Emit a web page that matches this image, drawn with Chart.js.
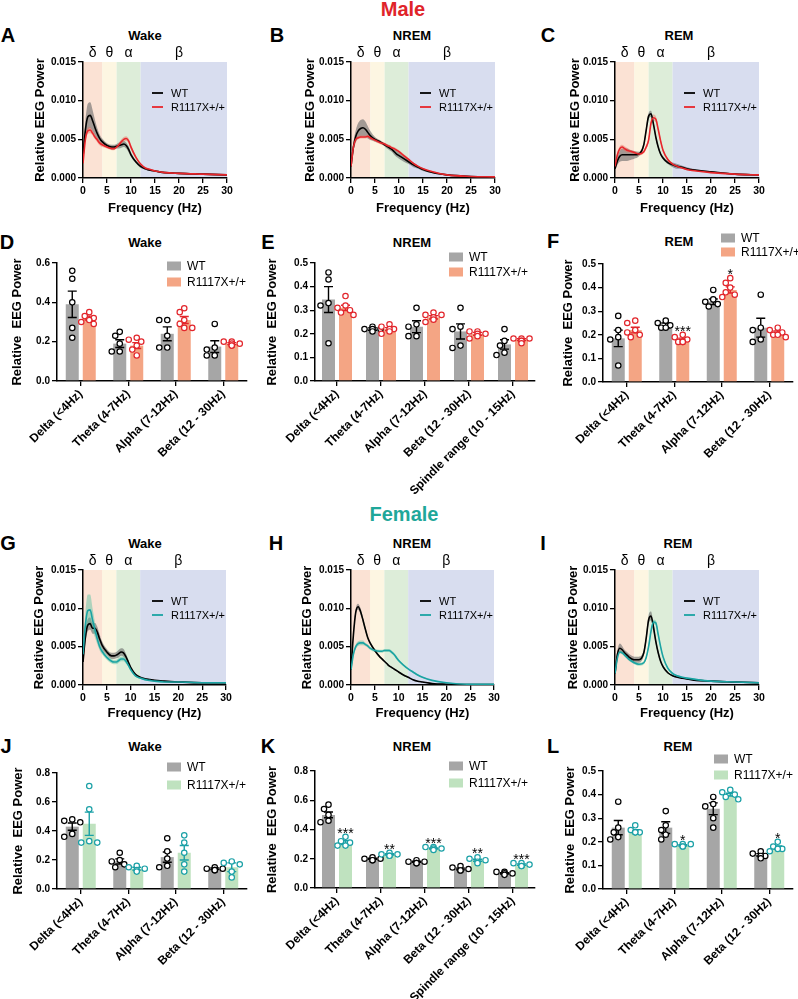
<!DOCTYPE html>
<html><head><meta charset="utf-8">
<script src="https://cdn.jsdelivr.net/npm/chart.js@4.4.1/dist/chart.umd.min.js"></script>
<style>
html,body{margin:0;padding:0;background:#fff;}
body{position:relative;width:798px;height:999px;overflow:hidden;font-family:Arial,"Liberation Sans",Helvetica,sans-serif;}
canvas{position:absolute;}
.lbl{position:absolute;transform:translate(-50%,-50%);white-space:nowrap;font-weight:bold;color:#000;line-height:1;}
</style></head><body>
<script>
// ---------------- DATA ----------------
const freq = [0,0.5,1,1.5,2,2.5,3,3.5,4,5,6,6.5,7,7.5,8,8.5,9,9.5,10,11,12,13,14,15,17,20,25,30];
const freqTicks = [0,5,10,15,20,25,30];
const bandEdges = [0,4,7,12,30];
const bandSymbols = ['δ','θ','α','β'];
const bandLabelAt = [2,5.5,9.5,20];

// Male Wake (A)
const maleWakeWT     = [0.0028,0.0062,0.0079,0.0081,0.0074,0.0065,0.0057,0.0051,0.0047,0.0042,0.0040,0.0040,0.0041,0.0042,0.0043,0.0044,0.0042,0.0037,0.0030,0.0021,0.0015,0.0012,0.0010,0.0009,0.0007,0.0006,0.0005,0.0004];
const maleWakeWTsem  = [0.0008,0.0012,0.0017,0.0017,0.0014,0.0010,0.0007,0.0005,0.0004,0.0003,0.0003,0.0003,0.0003,0.0004,0.0004,0.0004,0.0004,0.0004,0.0003,0.0002,0.0002,0.0001,0.0001,0.0001,0.0001,0.0001,0.0001,0.0001];
const maleWakeMut    = [0.0019,0.0050,0.0061,0.0062,0.0058,0.0053,0.0049,0.0045,0.0043,0.0040,0.0038,0.0038,0.0040,0.0043,0.0047,0.0050,0.0051,0.0048,0.0040,0.0027,0.0018,0.0013,0.0011,0.0009,0.0007,0.0006,0.0005,0.0004];
const maleWakeMutSem = [0.0003,0.0004,0.0004,0.0004,0.0003,0.0003,0.0003,0.0003,0.0003,0.0002,0.0002,0.0002,0.0002,0.0003,0.0003,0.0003,0.0003,0.0003,0.0003,0.0002,0.0001,0.0001,0.0001,0.0001,0.0001,0.0001,0.0001,0.0001];
// Male NREM (B)
const maleNremWT     = [0.0015,0.0040,0.0054,0.0061,0.0064,0.0065,0.0063,0.0059,0.0055,0.0050,0.0047,0.0045,0.0043,0.0041,0.0039,0.0037,0.0034,0.0031,0.0029,0.0025,0.0021,0.0017,0.0014,0.0011,0.0007,0.0004,0.0002,0.00015];
const maleNremWTsem  = [0.0003,0.0006,0.0008,0.0010,0.0011,0.0011,0.0010,0.0008,0.0006,0.0003,0.0002,0.0002,0.0002,0.0003,0.0003,0.0003,0.0004,0.0004,0.0004,0.0004,0.0003,0.0003,0.0002,0.0002,0.0001,0.0001,0.00005,0.00005];
const maleNremMut    = [0.0015,0.0040,0.0050,0.0052,0.0053,0.0053,0.0053,0.0054,0.0052,0.0049,0.0046,0.0045,0.0044,0.0042,0.0041,0.0039,0.0038,0.0036,0.0034,0.0029,0.0024,0.0019,0.0015,0.0012,0.0008,0.0004,0.0002,0.00015];
const maleNremMutSem = [0.0002,0.0002,0.0002,0.0002,0.0002,0.0002,0.0002,0.0002,0.0002,0.0002,0.0002,0.0002,0.0002,0.0002,0.0002,0.0002,0.0002,0.0002,0.0002,0.0002,0.0002,0.0001,0.0001,0.0001,0.0001,0.0001,0.00005,0.00005];
// Male REM (C)
const maleRemWT      = [0.0012,0.0022,0.0028,0.0030,0.0030,0.0030,0.0030,0.0030,0.0030,0.0031,0.0043,0.0062,0.0080,0.0083,0.0070,0.0053,0.0040,0.0031,0.0026,0.0020,0.0017,0.0015,0.0014,0.0012,0.0010,0.0008,0.0005,0.0004];
const maleRemWTsem   = [0.0003,0.0005,0.0007,0.0008,0.0008,0.0008,0.0007,0.0006,0.0005,0.0003,0.0003,0.0004,0.0004,0.0004,0.0003,0.0003,0.0002,0.0002,0.0002,0.0002,0.0003,0.0003,0.0002,0.0002,0.0001,0.0001,0.0001,0.0001];
const maleRemMut     = [0.0015,0.0030,0.0038,0.0040,0.0038,0.0036,0.0035,0.0034,0.0033,0.0031,0.0034,0.0040,0.0049,0.0071,0.0078,0.0076,0.0063,0.0048,0.0036,0.0024,0.0018,0.0015,0.0013,0.0011,0.0009,0.0007,0.0005,0.0004];
const maleRemMutSem  = [0.0002,0.0003,0.0003,0.0003,0.0003,0.0003,0.0002,0.0002,0.0002,0.0002,0.0002,0.0003,0.0003,0.0004,0.0004,0.0004,0.0003,0.0003,0.0002,0.0002,0.0001,0.0001,0.0001,0.0001,0.0001,0.0001,0.0001,0.0001];
// Female Wake (G)
const femWakeWT      = [0.0030,0.0062,0.0078,0.0080,0.0074,0.0074,0.0069,0.0060,0.0052,0.0043,0.0038,0.0038,0.0039,0.0041,0.0043,0.0042,0.0037,0.0030,0.0023,0.0014,0.0010,0.0008,0.0007,0.0006,0.0005,0.0004,0.0003,0.0003];
const femWakeWTsem   = [0.0005,0.0008,0.0008,0.0008,0.0007,0.0007,0.0007,0.0006,0.0005,0.0004,0.0004,0.0004,0.0004,0.0005,0.0005,0.0005,0.0004,0.0003,0.0002,0.0001,0.0001,0.0001,0.0001,0.0001,0.0001,0.0001,0.0001,0.0001];
const femWakeMut     = [0.0040,0.0078,0.0097,0.0098,0.0085,0.0072,0.0060,0.0050,0.0044,0.0036,0.0031,0.0030,0.0030,0.0032,0.0034,0.0034,0.0031,0.0026,0.0020,0.0012,0.0009,0.0007,0.0006,0.0005,0.0004,0.0004,0.0003,0.0003];
const femWakeMutSem  = [0.0008,0.0016,0.0021,0.0020,0.0015,0.0010,0.0007,0.0005,0.0004,0.0003,0.0003,0.0003,0.0003,0.0003,0.0003,0.0003,0.0003,0.0002,0.0002,0.0001,0.0001,0.0001,0.0001,0.0001,0.0001,0.0001,0.0001,0.0001];
// Female NREM (H)
const femNremWT      = [0.0020,0.0065,0.0095,0.0102,0.0096,0.0085,0.0073,0.0062,0.0055,0.0045,0.0037,0.0034,0.0031,0.0028,0.0025,0.0023,0.0021,0.0019,0.0017,0.0013,0.0010,0.0007,0.0005,0.0004,0.0002,0.0001,0.00005,0.00005];
const femNremWTsem   = [0.0002,0.0003,0.0004,0.0004,0.0004,0.0003,0.0003,0.0002,0.0002,0.0002,0.0001,0.0001,0.0001,0.0001,0.0001,0.0001,0.0001,0.0001,0.0001,0.0001,0.0001,0.00005,0.00005,0.00005,0.00005,0.00005,0.00005,0.00005];
const femNremMut     = [0.0020,0.0040,0.0050,0.0054,0.0055,0.0055,0.0053,0.0051,0.0048,0.0045,0.0044,0.0044,0.0045,0.0045,0.0045,0.0043,0.0040,0.0036,0.0032,0.0026,0.0021,0.0017,0.0013,0.0010,0.0006,0.0003,0.0001,0.0001];
const femNremMutSem  = [0.0002,0.0003,0.0003,0.0003,0.0003,0.0003,0.0002,0.0002,0.0002,0.0002,0.0002,0.0002,0.0002,0.0002,0.0002,0.0002,0.0002,0.0002,0.0002,0.0001,0.0001,0.0001,0.0001,0.0001,0.00005,0.00005,0.00005,0.00005];
// Female REM (I)
const femRemWT       = [0.0015,0.0040,0.0048,0.0046,0.0042,0.0039,0.0036,0.0034,0.0033,0.0033,0.0042,0.0061,0.0085,0.0090,0.0076,0.0057,0.0042,0.0031,0.0024,0.0016,0.0012,0.0010,0.0009,0.0008,0.0006,0.0005,0.0004,0.0003];
const femRemWTsem    = [0.0003,0.0005,0.0006,0.0005,0.0004,0.0004,0.0004,0.0004,0.0004,0.0004,0.0004,0.0005,0.0006,0.0006,0.0005,0.0004,0.0003,0.0002,0.0002,0.0001,0.0001,0.0001,0.0001,0.0001,0.0001,0.0001,0.0001,0.0001];
const femRemMut      = [0.0015,0.0035,0.0043,0.0042,0.0039,0.0036,0.0033,0.0031,0.0029,0.0027,0.0029,0.0036,0.0050,0.0070,0.0082,0.0081,0.0066,0.0050,0.0037,0.0022,0.0015,0.0012,0.0010,0.0009,0.0007,0.0005,0.0004,0.0003];
const femRemMutSem   = [0.0002,0.0002,0.0002,0.0002,0.0002,0.0002,0.0002,0.0002,0.0002,0.0002,0.0002,0.0002,0.0003,0.0003,0.0003,0.0003,0.0003,0.0002,0.0002,0.0001,0.0001,0.0001,0.0001,0.0001,0.0001,0.0001,0.0001,0.0001];

// Bar categories
const bandCats4 = ['Delta (<4Hz)','Theta (4-7Hz)','Alpha (7-12Hz)','Beta (12 - 30Hz)'];
const bandCats5 = ['Delta (<4Hz)','Theta (4-7Hz)','Alpha (7-12Hz)','Beta (12 - 30Hz)','Spindle range (10 - 15Hz)'];

// D Male Wake
const dWT = [0.39,0.19,0.24,0.175], dWTsem = [0.067,0.02,0.035,0.03];
const dWTpts = [[0.56,0.52,0.40,0.27,0.22],[0.25,0.23,0.19,0.15,0.15],[0.31,0.31,0.23,0.17,0.17],[0.29,0.17,0.16,0.13,0.13]];
const dMut = [0.32,0.18,0.31,0.19], dMutSem = [0.01,0.015,0.018,0.005];
const dMutPts = [[0.35,0.33,0.32,0.31,0.30,0.29],[0.22,0.21,0.20,0.18,0.16,0.13],[0.37,0.35,0.31,0.29,0.27,0.27],[0.20,0.20,0.19,0.19,0.18,0.18]];
const dSig = ['','','',''];
// E Male NREM
const eWT = [0.345,0.22,0.23,0.21,0.155], eWTsem = [0.055,0.005,0.025,0.032,0.02];
const eWTpts = [[0.46,0.43,0.33,0.32,0.16],[0.23,0.22,0.22,0.22,0.21],[0.31,0.24,0.23,0.19,0.19],[0.31,0.23,0.22,0.15,0.14],[0.22,0.17,0.15,0.12,0.11]];
const eMut = [0.31,0.22,0.27,0.20,0.175], eMutSem = [0.011,0.006,0.007,0.006,0.004];
const eMutPts = [[0.36,0.32,0.31,0.30,0.29,0.28],[0.24,0.23,0.22,0.22,0.21,0.20],[0.29,0.28,0.28,0.27,0.26,0.25],[0.21,0.21,0.20,0.20,0.19,0.18],[0.18,0.18,0.18,0.17,0.17,0.16]];
const eSig = ['','','','',''];
// F Male REM
const fWT = [0.185,0.24,0.34,0.23], fWTsem = [0.035,0.01,0.012,0.04];
const fWTpts = [[0.28,0.22,0.19,0.18,0.07],[0.26,0.25,0.24,0.23,0.23],[0.39,0.35,0.34,0.33,0.32],[0.37,0.23,0.22,0.18,0.17]];
const fMut = [0.22,0.18,0.39,0.21], fMutSem = [0.012,0.006,0.013,0.006];
const fMutPts = [[0.26,0.25,0.22,0.21,0.20,0.19],[0.20,0.19,0.18,0.17,0.17,0.17],[0.44,0.42,0.40,0.38,0.37,0.36],[0.23,0.22,0.21,0.20,0.20,0.19]];
const fSig = ['','***','*',''];
// J Female Wake
const jWT = [0.43,0.19,0.22,0.14], jWTsem = [0.025,0.018,0.035,0.006];
const jWTpts = [[0.48,0.47,0.46,0.38,0.36],[0.25,0.20,0.19,0.17,0.15],[0.35,0.26,0.21,0.16,0.15],[0.15,0.14,0.14,0.13,0.13]];
const jMut = [0.45,0.14,0.25,0.15], jMutSem = [0.08,0.01,0.05,0.03];
const jMutPts = [[0.71,0.55,0.33,0.32,0.32],[0.16,0.15,0.14,0.13,0.12],[0.37,0.32,0.25,0.17,0.12],[0.19,0.18,0.17,0.12,0.08]];
const jSig = ['','','',''];
// K Female NREM
const kWT = [0.50,0.20,0.18,0.13,0.10], kWTsem = [0.02,0.004,0.004,0.006,0.004];
const kWTpts = [[0.57,0.54,0.50,0.46,0.45],[0.21,0.20,0.20,0.19,0.19],[0.19,0.18,0.18,0.17,0.17],[0.15,0.14,0.13,0.12,0.12],[0.11,0.11,0.10,0.10,0.09]];
const kMut = [0.31,0.23,0.27,0.19,0.16], kMutSem = [0.013,0.004,0.003,0.007,0.005];
const kMutPts = [[0.35,0.32,0.31,0.29,0.29],[0.24,0.23,0.23,0.22,0.22],[0.28,0.28,0.27,0.27,0.26],[0.21,0.20,0.19,0.18,0.17],[0.17,0.17,0.16,0.15,0.15]];
const kSig = ['***','**','***','**','***'];
// L Female REM
const lWT = [0.26,0.26,0.34,0.145], lWTsem = [0.03,0.025,0.025,0.005];
const lWTpts = [[0.37,0.26,0.24,0.22,0.21],[0.33,0.27,0.25,0.23,0.21],[0.39,0.36,0.35,0.30,0.26],[0.16,0.15,0.14,0.14,0.13]];
const lMut = [0.245,0.185,0.40,0.175], lMutSem = [0.006,0.003,0.006,0.007];
const lMutPts = [[0.27,0.25,0.24,0.24,0.24],[0.19,0.19,0.19,0.18,0.18],[0.42,0.41,0.40,0.39,0.38],[0.20,0.18,0.17,0.17,0.16]];
const lSig = ['','*','','*'];

// ---------------- STYLE ----------------
const FONT = 'Arial, "Liberation Sans", Helvetica, sans-serif';
Chart.defaults.font.family = FONT;
Chart.defaults.color = '#000';
const bandColors = ['#fbe2d4','#fdf6e2','#ddedd9','#d8ddef'];
const WT_BAND = 'rgba(105,105,105,0.6)';
const MALE_LINE = '#e8252b', MALE_BAND = 'rgba(236,110,95,0.45)';
const FEM_LINE = '#1aa3a3', FEM_BAND = 'rgba(80,190,160,0.45)';
const WT_BAR = '#a6a6a6', MALE_BAR = '#f4a584', FEM_BAR = '#bfe2bf';
const MALE_PT = '#e2252b', FEM_PT = '#1aa0a6';

function addText(txt, x, y, size, color, bold) {
  const d = document.createElement('div'); d.className = 'lbl'; d.textContent = txt;
  d.style.left = x + 'px'; d.style.top = y + 'px'; d.style.fontSize = size + 'px';
  d.style.color = color || '#000'; if (bold === false) d.style.fontWeight = 'normal';
  document.body.appendChild(d);
}
function addCanvas(l, t, w, h) {
  const c = document.createElement('canvas'); c.width = w; c.height = h;
  c.style.left = l + 'px'; c.style.top = t + 'px'; c.style.width = w + 'px'; c.style.height = h + 'px';
  document.body.appendChild(c); return c;
}

const bandPlugin = {
  id: 'bands',
  beforeDraw(chart) {
    const {ctx, chartArea: a, scales: {x}} = chart;
    ctx.save();
    for (let i = 0; i < bandEdges.length - 1; i++) {
      const x1 = x.getPixelForValue(bandEdges[i]), x2 = x.getPixelForValue(bandEdges[i + 1]);
      ctx.fillStyle = bandColors[i]; ctx.fillRect(x1, a.top, x2 - x1, a.bottom - a.top);
    }
    ctx.font = '14px ' + FONT; ctx.fillStyle = '#000'; ctx.textAlign = 'center'; ctx.textBaseline = 'middle';
    bandSymbols.forEach((s, i) => ctx.fillText(s, x.getPixelForValue(bandLabelAt[i]), a.top - 9));
    ctx.restore();
  }
};
const legendPlugin = {
  id: 'customLegend',
  afterDraw(chart, args, o) {
    if (!o || !o.items) return;
    const ctx = chart.ctx, a = chart.chartArea;
    ctx.save();
    ctx.font = o.font + 'px ' + FONT; ctx.textBaseline = 'middle'; ctx.textAlign = 'left';
    o.items.forEach((it, i) => {
      const x = a.left + o.dx, y = a.top + o.dy + i * o.gap;
      if (it.kind === 'line') {
        ctx.strokeStyle = it.color; ctx.lineWidth = 1.8;
        ctx.beginPath(); ctx.moveTo(x, y); ctx.lineTo(x + 11, y); ctx.stroke();
      } else {
        ctx.fillStyle = it.color; ctx.fillRect(x, y - 4.5, 14, 9);
      }
      ctx.fillStyle = '#000'; ctx.fillText(it.label, x + o.textDx, y + 0.5);
    });
    ctx.restore();
  }
};
const barExtras = {
  id: 'barExtras',
  afterDatasetsDraw(chart, args, o) {
    const ctx = chart.ctx, ys = chart.scales.y;
    ctx.save();
    o.groups.forEach((g, di) => {
      const meta = chart.getDatasetMeta(di);
      meta.data.forEach((bar, i) => {
        const x = bar.x;
        const yHi = ys.getPixelForValue(g.mean[i] + g.sem[i]), yLo = ys.getPixelForValue(g.mean[i] - g.sem[i]);
        ctx.strokeStyle = g.err; ctx.lineWidth = 1.4;
        ctx.beginPath();
        ctx.moveTo(x, yHi); ctx.lineTo(x, yLo);
        ctx.moveTo(x - 4.5, yHi); ctx.lineTo(x + 4.5, yHi);
        ctx.moveTo(x - 4.5, yLo); ctx.lineTo(x + 4.5, yLo);
        ctx.stroke();
        const placed = [];
        let topY = yHi;
        g.pts[i].forEach(v => {
          const py = ys.getPixelForValue(v);
          let dx = 0;
          for (const c of [0, -4.5, 4.5, -8, 8]) {
            if (placed.every(p => Math.hypot(p[0] - c, p[1] - py) >= 5.6)) { dx = c; break; }
          }
          placed.push([dx, py]);
          topY = Math.min(topY, py);
          ctx.beginPath(); ctx.arc(x + dx, py, 2.7, 0, Math.PI * 2);
          ctx.fillStyle = '#fff'; ctx.fill();
          ctx.strokeStyle = g.pt; ctx.lineWidth = 1.2; ctx.stroke();
        });
        if (g.sig && g.sig[i]) {
          ctx.fillStyle = '#000'; ctx.font = '14px ' + FONT; ctx.textAlign = 'center'; ctx.textBaseline = 'alphabetic';
          ctx.fillText(g.sig[i], x, topY + 1);
        }
      });
    });
    ctx.restore();
  }
};

const axisGrid = {display: true, drawOnChartArea: false, drawTicks: true, tickLength: 5, color: '#000', lineWidth: 1.3};
const axisBorder = {display: true, color: '#000', width: 1.5};

function lineChart(o) {
  const padTop = 20, yw = 83, xh = 40, padR = 12;
  const [aL, aR, aT, aB] = o.area;
  const L = aL - yw, T = aT - padTop, W = aR - aL + yw + padR, H = aB - aT + padTop + xh;
  const cv = addCanvas(L, T, W, H);
  const pt = a => freq.map((f, i) => ({x: f, y: a[i]}));
  const hi = (m, s) => m.map((v, i) => v + s[i]);
  const lo = (m, s) => m.map((v, i) => Math.max(0, v - s[i]));
  const bandDs = (data, fill, color, order) => ({data, fill, backgroundColor: color, borderColor: 'rgba(0,0,0,0)', borderWidth: 0, pointRadius: 0, cubicInterpolationMode: 'monotone', order});
  new Chart(cv, {
    type: 'line',
    data: {datasets: [
      bandDs(pt(hi(o.wt, o.wtSem)), '+1', WT_BAND, 3),
      bandDs(pt(lo(o.wt, o.wtSem)), false, WT_BAND, 3),
      bandDs(pt(hi(o.mut, o.mutSem)), '+1', o.mutBand, 2),
      bandDs(pt(lo(o.mut, o.mutSem)), false, o.mutBand, 2),
      {data: pt(o.wt), borderColor: '#000', borderWidth: 1.6, pointRadius: 0, fill: false, cubicInterpolationMode: 'monotone', order: 1},
      {data: pt(o.mut), borderColor: o.mutColor, borderWidth: 1.6, pointRadius: 0, fill: false, cubicInterpolationMode: 'monotone', order: 0}
    ]},
    options: {
      responsive: false, animation: false, devicePixelRatio: 1, events: [],
      layout: {padding: {top: padTop, right: padR, left: 0, bottom: 0}},
      plugins: {legend: {display: false}, tooltip: {enabled: false},
        customLegend: {dx: 69, dy: 31, gap: 14, textDx: 19, font: 11,
          items: [{label: 'WT', color: '#000', kind: 'line'}, {label: 'R1117X+/+', color: o.mutColor, kind: 'line'}]}},
      scales: {
        x: {type: 'linear', min: 0, max: 30, z: 1, afterFit: s => { s.height = xh; },
          afterBuildTicks: s => { s.ticks = freqTicks.map(v => ({value: v})); },
          ticks: {font: {size: 10.5, weight: 'bold'}, color: '#000', padding: 2, maxRotation: 0},
          grid: axisGrid, border: axisBorder,
          title: {display: true, text: 'Frequency (Hz)', font: {size: 13, weight: 'bold'}, color: '#000', padding: {top: 0, bottom: T + H - 7.8 - o.xTitleY}}},
        y: {min: 0, max: 0.015, z: 1, afterFit: s => { s.width = yw; },
          ticks: {stepSize: 0.005, callback: v => v.toFixed(3), font: {size: 10, weight: 'bold'}, color: '#000', padding: 2},
          grid: axisGrid, border: axisBorder,
          title: {display: true, text: 'Relative EEG Power', font: {size: 13, weight: 'bold'}, color: '#000', padding: {top: o.yTitleX - L - 7.8, bottom: 0}}}
      }
    },
    plugins: [bandPlugin, legendPlugin]
  });
}

function barChart(o) {
  const padTop = 35, yw = 57, xh = 130, padR = 10;
  const [aL, aR, aT, aB] = o.area;
  const L = aL - yw, T = aT - padTop, W = aR - aL + yw + padR, H = aB - aT + padTop + xh;
  const cv = addCanvas(L, T, W, H);
  const cw = (aR - aL) / o.cats.length;
  const catPct = 34 / cw, barPct = 13 / 17;
  new Chart(cv, {
    type: 'bar',
    data: {labels: o.cats, datasets: [
      {label: 'WT', data: o.wt, backgroundColor: WT_BAR, borderWidth: 0, categoryPercentage: catPct, barPercentage: barPct},
      {label: 'R1117X+/+', data: o.mut, backgroundColor: o.mutBar, borderWidth: 0, categoryPercentage: catPct, barPercentage: barPct}
    ]},
    options: {
      responsive: false, animation: false, devicePixelRatio: 1, events: [],
      layout: {padding: {top: padTop, right: padR, left: 0, bottom: 0}},
      plugins: {legend: {display: false}, tooltip: {enabled: false},
        customLegend: Object.assign({textDx: 20, font: 12,
          items: [{label: 'WT', color: WT_BAR, kind: 'box'}, {label: 'R1117X+/+', color: o.mutBar, kind: 'box'}]}, o.legend),
        barExtras: {groups: [
          {mean: o.wt, sem: o.wtSem, pts: o.wtPts, err: '#000', pt: '#000'},
          {mean: o.mut, sem: o.mutSem, pts: o.mutPts, err: o.mutPt, pt: o.mutPt, sig: o.sig}
        ]}},
      scales: {
        x: {z: 1, afterFit: s => { s.height = xh; },
          ticks: {font: {size: 12, weight: 'bold'}, color: '#000', padding: 1, minRotation: 45, maxRotation: 45, autoSkip: false},
          grid: Object.assign({}, axisGrid, {offset: false}), border: axisBorder},
        y: {min: 0, max: o.yMax, z: 1, afterFit: s => { s.width = yw; },
          ticks: {stepSize: o.yStep, callback: v => v.toFixed(1), font: {size: 10, weight: 'bold'}, color: '#000', padding: 2},
          grid: axisGrid, border: axisBorder,
          title: {display: true, text: 'Relative  EEG Power', font: {size: 13, weight: 'bold'}, color: '#000', padding: {top: o.yTitleX - L - 7.8, bottom: 0}}}
      }
    },
    plugins: [legendPlugin, barExtras]
  });
}

// ---------------- BUILD ----------------
addText('Male', 403, 9, 20, '#e0242a');
addText('Female', 404, 514, 20, '#1fa79a');
[['A',8,35],['B',277,35],['C',548,35],['D',7,242],['E',268,242],['F',553,241],
 ['G',8,543],['H',276,543],['I',543,543],['J',6,746],['K',268,746],['L',553,746]].forEach(p => addText(p[0], p[1], p[2], 20));
[['Wake',145,35],['NREM',412,35],['REM',679,35],['Wake',145,242],['NREM',412,242],['REM',679,241],
 ['Wake',145,543],['NREM',412,543],['REM',678,543],['Wake',145,746],['NREM',412,746],['REM',678,746]].forEach(p => addText(p[0], p[1], p[2], 13));

lineChart({area: [83,227,62,178], wt: maleWakeWT, wtSem: maleWakeWTsem, mut: maleWakeMut, mutSem: maleWakeMutSem, mutColor: MALE_LINE, mutBand: MALE_BAND, yTitleX: 40, xTitleY: 208});
lineChart({area: [351,495,62,178], wt: maleNremWT, wtSem: maleNremWTsem, mut: maleNremMut, mutSem: maleNremMutSem, mutColor: MALE_LINE, mutBand: MALE_BAND, yTitleX: 310, xTitleY: 208});
lineChart({area: [615,759,62,178], wt: maleRemWT, wtSem: maleRemWTsem, mut: maleRemMut, mutSem: maleRemMutSem, mutColor: MALE_LINE, mutBand: MALE_BAND, yTitleX: 575, xTitleY: 208});
lineChart({area: [83,226,570,685], wt: femWakeWT, wtSem: femWakeWTsem, mut: femWakeMut, mutSem: femWakeMutSem, mutColor: FEM_LINE, mutBand: FEM_BAND, yTitleX: 39, xTitleY: 713});
lineChart({area: [351,494,570,685], wt: femNremWT, wtSem: femNremWTsem, mut: femNremMut, mutSem: femNremMutSem, mutColor: FEM_LINE, mutBand: FEM_BAND, yTitleX: 307, xTitleY: 713});
lineChart({area: [615,759,570,685], wt: femRemWT, wtSem: femRemWTsem, mut: femRemMut, mutSem: femRemMutSem, mutColor: FEM_LINE, mutBand: FEM_BAND, yTitleX: 573, xTitleY: 713});

barChart({area: [57,247,263,381], cats: bandCats4, wt: dWT, wtSem: dWTsem, wtPts: dWTpts, mut: dMut, mutSem: dMutSem, mutPts: dMutPts, sig: dSig, yMax: 0.6, yStep: 0.2, mutBar: MALE_BAR, mutPt: MALE_PT, yTitleX: 17, legend: {dx: 110, dy: 3, gap: 16}});
barChart({area: [315,535,263,381], cats: bandCats5, wt: eWT, wtSem: eWTsem, wtPts: eWTpts, mut: eMut, mutSem: eMutSem, mutPts: eMutPts, sig: eSig, yMax: 0.5, yStep: 0.1, mutBar: MALE_BAR, mutPt: MALE_PT, yTitleX: 272, legend: {dx: 134, dy: -6, gap: 15}});
barChart({area: [603,793,264,382], cats: bandCats4, wt: fWT, wtSem: fWTsem, wtPts: fWTpts, mut: fMut, mutSem: fMutSem, mutPts: fMutPts, sig: fSig, yMax: 0.5, yStep: 0.1, mutBar: MALE_BAR, mutPt: MALE_PT, yTitleX: 568, legend: {dx: 118, dy: -26, gap: 14}});
barChart({area: [57,247,773,889], cats: bandCats4, wt: jWT, wtSem: jWTsem, wtPts: jWTpts, mut: jMut, mutSem: jMutSem, mutPts: jMutPts, sig: jSig, yMax: 0.8, yStep: 0.2, mutBar: FEM_BAR, mutPt: FEM_PT, yTitleX: 18, legend: {dx: 110, dy: -6, gap: 18}});
barChart({area: [315,535,771,888], cats: bandCats5, wt: kWT, wtSem: kWTsem, wtPts: kWTpts, mut: kMut, mutSem: kMutSem, mutPts: kMutPts, sig: kSig, yMax: 0.8, yStep: 0.2, mutBar: FEM_BAR, mutPt: FEM_PT, yTitleX: 272, legend: {dx: 134, dy: -5, gap: 17}});
barChart({area: [603,793,771,889], cats: bandCats4, wt: lWT, wtSem: lWTsem, wtPts: lWTpts, mut: lMut, mutSem: lMutSem, mutPts: lMutPts, sig: lSig, yMax: 0.5, yStep: 0.1, mutBar: FEM_BAR, mutPt: FEM_PT, yTitleX: 570, legend: {dx: 111, dy: -12, gap: 16}});
</script>
</body></html>
